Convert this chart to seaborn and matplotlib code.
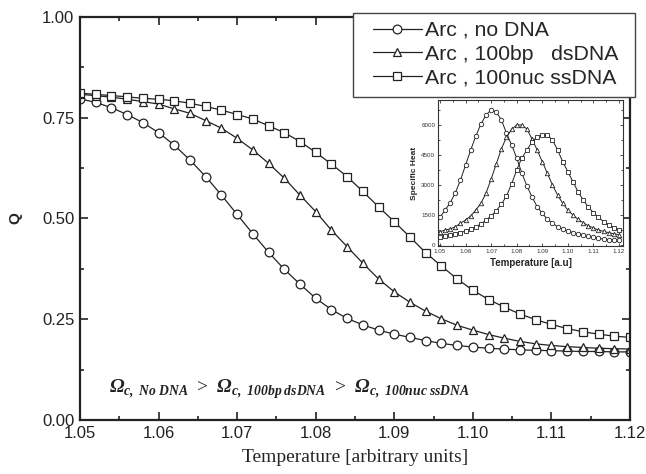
import matplotlib
matplotlib.use("Agg")
import matplotlib.pyplot as plt
from matplotlib.patches import Rectangle
from matplotlib.ticker import MultipleLocator
import seaborn as sns

# temperature grid (arbitrary units)
temp = [1.050, 1.052, 1.054, 1.056, 1.058, 1.060, 1.062, 1.064, 1.066, 1.068,
        1.070, 1.072, 1.074, 1.076, 1.078, 1.080, 1.082, 1.084, 1.086, 1.088,
        1.090, 1.092, 1.094, 1.096, 1.098, 1.100, 1.102, 1.104, 1.106, 1.108,
        1.110, 1.112, 1.114, 1.116, 1.118, 1.120]

# Q, main panel
q_no_dna = [0.797, 0.788, 0.775, 0.758, 0.738, 0.713, 0.682, 0.645, 0.604, 0.558,
            0.510, 0.462, 0.416, 0.374, 0.337, 0.302, 0.274, 0.252, 0.236, 0.223,
            0.213, 0.205, 0.197, 0.190, 0.185, 0.181, 0.178, 0.176, 0.174, 0.173,
            0.172, 0.171, 0.170, 0.170, 0.169, 0.169]
q_ds = [0.808, 0.805, 0.801, 0.796, 0.790, 0.784, 0.772, 0.761, 0.743, 0.724,
        0.699, 0.670, 0.637, 0.600, 0.558, 0.517, 0.471, 0.430, 0.389, 0.350,
        0.318, 0.292, 0.270, 0.251, 0.235, 0.223, 0.212, 0.203, 0.195, 0.189,
        0.185, 0.182, 0.180, 0.178, 0.177, 0.176]
q_ss = [0.811, 0.808, 0.805, 0.802, 0.798, 0.796, 0.792, 0.786, 0.778, 0.769,
        0.758, 0.747, 0.730, 0.713, 0.691, 0.664, 0.635, 0.604, 0.567, 0.529,
        0.492, 0.454, 0.415, 0.382, 0.350, 0.322, 0.299, 0.280, 0.263, 0.249,
        0.237, 0.227, 0.219, 0.213, 0.208, 0.205]

# specific heat, inset
cv_no_dna = [1385, 1750, 2115, 2615, 3250, 4000, 4750, 5450, 6050, 6500,
             6750, 6650, 6250, 5600, 5000, 4350, 3600, 2950, 2400, 1915,
             1585, 1285, 1085, 915, 800, 700, 615, 550, 480, 430,
             385, 330, 300, 270, 250, 235]
cv_ds = [665, 750, 800, 915, 1085, 1250, 1450, 1750, 2085, 2600,
         3300, 4050, 4800, 5400, 5780, 6000, 6000, 5800, 5300, 4750,
         4170, 3585, 3000, 2500, 2085, 1750, 1500, 1285, 1115, 965,
         850, 750, 680, 615, 565, 515]
cv_ss = [415, 450, 485, 550, 615, 700, 800, 915, 1050, 1250,
         1450, 1715, 2035, 2450, 3050, 3750, 4350, 4750, 5150, 5400,
         5500, 5500, 5250, 4750, 4170, 3665, 3165, 2665, 2250, 1915,
         1615, 1385, 1165, 1000, 865, 750]

labels = ["Arc , no DNA", "Arc , 100bp   dsDNA", "Arc , 100nuc ssDNA"]
markers = ["o", "^", "s"]

sns.set_style("ticks")
plt.rcParams["font.family"] = ["Liberation Sans", "DejaVu Sans"]
plt.rcParams["mathtext.fontset"] = "custom"
plt.rcParams["mathtext.rm"] = "Liberation Serif"
plt.rcParams["mathtext.bf"] = "Liberation Serif:bold"
plt.rcParams["mathtext.bfit"] = "Liberation Serif:italic:bold"

fig = plt.figure(figsize=(6.46, 4.74), dpi=100)
ax = fig.add_axes([80 / 646, 54 / 474, 550 / 646, 403 / 474])

for q, lab, m in zip([q_no_dna, q_ds, q_ss], labels, markers):
    sns.lineplot(x=temp, y=q, ax=ax, color="#222222", lw=0.9, marker=m,
                 markersize=6.3 if m != "s" else 6.0, markerfacecolor="white",
                 markeredgecolor="#222222", markeredgewidth=0.9, label=lab)

ax.set_xlim(1.05, 1.12)
ax.set_ylim(0, 1.0)
ax.xaxis.set_major_locator(MultipleLocator(0.01))
ax.xaxis.set_minor_locator(MultipleLocator(0.005))
ax.yaxis.set_major_locator(MultipleLocator(0.25))
ax.yaxis.set_minor_locator(MultipleLocator(0.125))
ax.xaxis.set_major_formatter(matplotlib.ticker.FormatStrFormatter("%.2f"))
ax.yaxis.set_major_formatter(matplotlib.ticker.FormatStrFormatter("%.2f"))
ax.tick_params(which="both", direction="in", top=True, right=True,
               labeltop=False, labelright=False, width=1.2, colors="#222222")
ax.tick_params(which="major", length=6, labelsize=12, pad=4)
ax.tick_params(which="minor", length=3)
for s in ax.spines.values():
    s.set_linewidth(1.6)
    s.set_color("#222222")

ax.set_xlabel("Temperature [arbitrary units]", family="Liberation Serif",
              fontsize=14, labelpad=6)
ax.set_ylabel("Q", fontsize=11, fontweight="bold", labelpad=14)

ax.text(1.0537, 0.068,
        r"$\mathbfit{\Omega}_{\mathbfit{c,\:No\:DNA}}\;\mathrm{>}\;"
        r"\mathbfit{\Omega}_{\mathbfit{c,\:100bp\:dsDNA}}\;\mathrm{>}\;"
        r"\mathbfit{\Omega}_{\mathbfit{c,\:100nuc\:ssDNA}}$",
        fontsize=14, color="#222222")

leg = ax.legend(loc="upper left", bbox_to_anchor=(373 / 646, 1 - 21 / 474),
                bbox_transform=fig.transFigure, borderaxespad=0,
                fontsize=15.3, labelspacing=0.22, handlelength=2.3,
                handletextpad=0.15, borderpad=0, frameon=False)
# legend frame, drawn on its own so the side padding matches
fig.add_artist(Rectangle((353 / 646, 1 - 97 / 474), 282 / 646, 84 / 474,
                         transform=fig.transFigure, facecolor="white",
                         edgecolor="#444444", lw=1.0, zorder=4))
leg.set_zorder(5)
fig.add_artist(leg)

# inset: specific heat
ins = fig.add_axes([438 / 646, 228 / 474, 185 / 646, 146 / 474])
for cv, m in zip([cv_no_dna, cv_ds, cv_ss], markers):
    sns.lineplot(x=temp, y=cv, ax=ins, color="#222222", lw=0.7, marker=m,
                 markersize=3.2, markerfacecolor="white",
                 markeredgecolor="#222222", markeredgewidth=0.6)
ins.set_xlim(1.0492, 1.1216)
ins.set_ylim(-50, 7250)
ins.xaxis.set_major_locator(MultipleLocator(0.01))
ins.xaxis.set_minor_locator(MultipleLocator(0.005))
ins.yaxis.set_major_locator(MultipleLocator(1500))
ins.yaxis.set_minor_locator(MultipleLocator(750))
ins.xaxis.set_major_formatter(matplotlib.ticker.FormatStrFormatter("%.2f"))
ins.tick_params(which="both", direction="in", top=True, right=True,
                labelsize=4.5, width=0.6, pad=2, colors="#333333")
ins.tick_params(which="major", length=2.5)
ins.tick_params(which="minor", length=1.5)
for s in ins.spines.values():
    s.set_linewidth(0.8)
    s.set_color("#333333")
ins.set_xlabel("Temperature [a.u]", fontsize=7, fontweight="bold", labelpad=3)
ins.set_ylabel("Specific Heat", fontsize=6, fontweight="bold", labelpad=2)

fig.savefig("out.png", dpi=100)
